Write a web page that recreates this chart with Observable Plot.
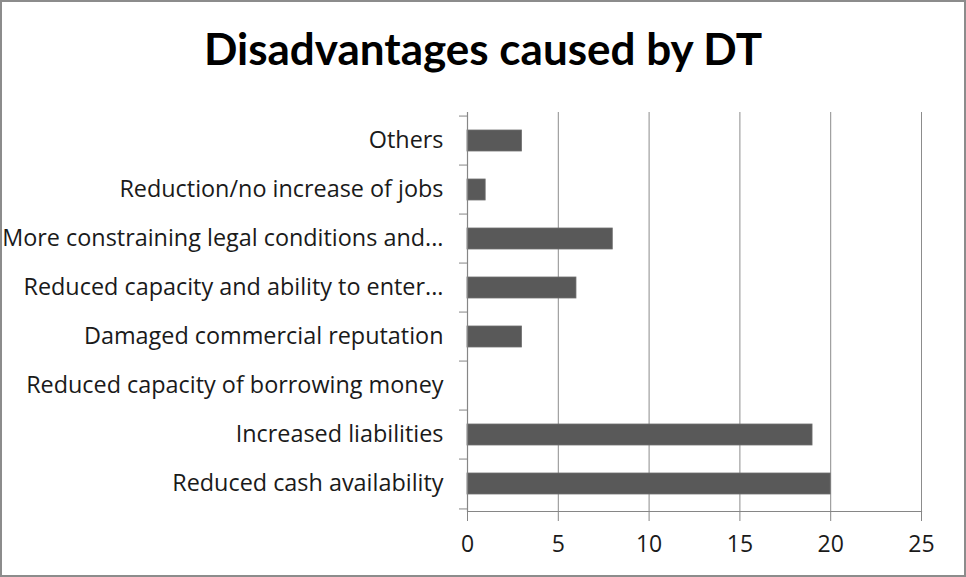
<!DOCTYPE html>
<html>
<head>
<meta charset="utf-8">
<script src="https://cdn.jsdelivr.net/npm/d3@7"></script>
<script src="https://cdn.jsdelivr.net/npm/@observablehq/plot@0.6"></script>
<style>
  html, body { margin: 0; padding: 0; background: #fff; }
  #chart { position: relative; width: 966px; height: 577px; border: 2px solid #8c8c8c; box-sizing: border-box; overflow: hidden; }
  #title { position: absolute; left: 0; top: 20px; width: 100%; text-align: center; font-family: Lato, sans-serif; font-weight: bold; font-size: 44px; color: #000; }
  #plot { position: absolute; left: 0; top: 0; }
</style>
</head>
<body>
<div id="chart">
  <div id="title">Disadvantages caused by DT</div>
  <div id="plot"></div>
</div>
<script>
const categories = [
  "Others",
  "Reduction/no increase of jobs",
  "More constraining legal conditions and...",
  "Reduced capacity and ability to enter...",
  "Damaged commercial reputation",
  "Reduced capacity of borrowing money",
  "Increased liabilities",
  "Reduced cash availability"
];
const values = [3, 1, 8, 6, 3, 0, 19, 20];
const xTicks = [0, 5, 10, 15, 20, 25];

const data = categories.map((c, i) => ({category: c, value: values[i]}));

const W = 962, H = 573;
const mTop = 110, mBottom = 64, mLeft = 465, mRight = 43;
const step = (H - mTop - mBottom) / categories.length;
const font = "'Open Sans', sans-serif";

const chart = Plot.plot({
  width: W,
  height: H,
  marginTop: mTop,
  marginBottom: mBottom,
  marginLeft: mLeft,
  marginRight: mRight,
  style: {fontFamily: font, fontSize: "23px", color: "#000", background: "transparent"},
  x: {domain: [0, 25], ticks: xTicks},
  y: {domain: categories, paddingInner: 0.58, paddingOuter: 0.29},
  marks: [
    Plot.gridX(xTicks.filter(t => t !== 0), {stroke: "#8c8c8c", strokeOpacity: 1, strokeWidth: 1}),
    Plot.barX(data, {y: "category", x: "value", fill: "#595959", stroke: "#6e6e6e", strokeWidth: 0.8}),
    Plot.ruleX([0], {stroke: "#868686", strokeWidth: 1.2}),
    Plot.frame({anchor: "bottom", stroke: "#868686", strokeWidth: 1.2}),
    Plot.axisX({ticks: xTicks, tickSize: 10, tickPadding: 14, stroke: "#868686", fill: "#1a1a1a", fontSize: 23, label: null}),
    Plot.axisY({tickSize: 0, tickPadding: 24, fill: "#1a1a1a", fontSize: 23.4, dy: -1, label: null}),
    Plot.axisY({text: null, tickSize: 8, dy: -step / 2, stroke: "#868686", label: null}),
    Plot.axisY({ticks: [categories[categories.length - 1]], text: null, tickSize: 8, dy: step / 2, stroke: "#868686", label: null})
  ]
});
document.getElementById("plot").appendChild(chart);
</script>
</body>
</html>
